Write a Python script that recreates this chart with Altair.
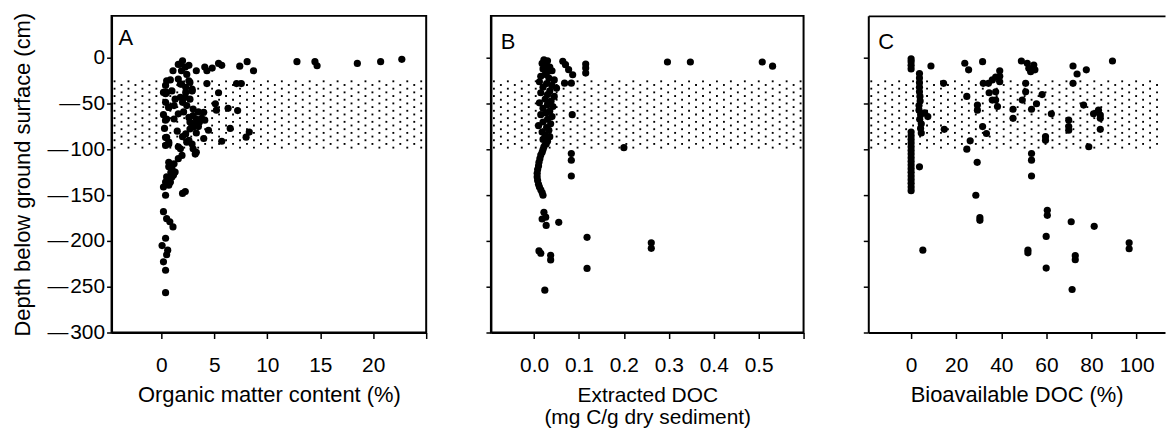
import altair as alt
import numpy as np
import pandas as pd

FONT = "Liberation Sans"

# ---------------- data ----------------
# Panel A: organic matter content (%) vs depth (cm)
A_POINTS = [
    (12.8, -4), (14.5, -4), (14.7, -8.5), (18.5, -6), (20.7, -4), (22.7, -1.5),
    (8.1, -4), (8.7, -14), (7.4, -9), (7.1, -28), (7.55, -28), (7.2, -57.5), (8.3, -81), (8.0, -86.5),
    (6.5, -77), (6.3, -55), (5.4, -38), (5.1, -50), (5.2, -57), (5.7, -91), (5.4, -6), (5.7, -8),
    (4.45, -79), (4.1, -10), (4.3, -14), (4.8, -11), (4.3, -28), (3.3, -14), (3.8, -66), (4.0, -88),
    (3.5, -75), (3.3, -82),
    (1.8, -6.7), (1.1, -14), (1.6, -7), (1.9, -14), (2.26, -10), (2.0, -3), (2.6, -8), (2.4, -18),
    (0.5, -25), (1.6, -23), (1.9, -28.5), (2.6, -25), (0.4, -30), (0.85, -24), (0.4, -39), (1.0, -36),
    (2.26, -43), (2.9, -36), (0.7, -54), (1.6, -61), (0.4, -68), (2.6, -65), (3.2, -72), (4.1, -68),
    (0.4, -87), (0.7, -94), (1.6, -97), (2.6, -90),
    (0.2, -37.6), (0.5, -37.6), (1.8, -28.5), (2.3, -32), (2.7, -26.7), (2.9, -34), (1.8, -43), (2.0, -48.5),
    (2.4, -52), (2.1, -59), (0.4, -48.5), (0.7, -54), (1.2, -52), (0.2, -62), (0.5, -66.7), (1.2, -66.7),
    (0.3, -77), (0.5, -86.6), (0.4, -95.6), (0.7, -92), (2.3, -83), (2.7, -77.6), (3.0, -75.7), (2.4, -92),
    (2.9, -94), (3.0, -99.3), (3.3, -103), (1.8, -99.3), (3.0, -63), (3.3, -66.7), (2.85, -72), (3.6, -70),
    (2.7, -70), (2.3, -37.6), (2.9, -35.7), (2.7, -45), (3.0, -55.8), (4.0, -59.4), (3.5, -59), (1.3, -45),
    (1.5, -80), (2.0, -86),
    (1.95, -106.5), (1.6, -110), (3.2, -105), (0.7, -114), (0.7, -119), (0.9, -125), (1.0, -130), (0.8, -136),
    (0.7, -139), (1.0, -121), (1.15, -128), (1.2, -115.7), (1.3, -124.7), (0.85, -135.6), (0.2, -141),
    (0.4, -135.6), (0.5, -130), (0.4, -150), (2.26, -146), (2.0, -148), (0.2, -168), (0.5, -175.6),
    (0.8, -179), (1.1, -184.6), (0.4, -197), (0.07, -205), (0.6, -210), (0.5, -215), (0.2, -222.8),
    (0.4, -232), (0.4, -256.5),
]

# Panel B: extracted DOC (mg C/g dry sediment) vs depth (cm)
B_POINTS = [
    (0.297, -4.4), (0.348, -4.4), (0.508, -4.4), (0.531, -9),
    (0.064, -3.6), (0.07, -7.3), (0.077, -12.8), (0.086, -18.3),
    (0.115, -6.6), (0.115, -11), (0.115, -16.5), (0.068, -27.5), (0.083, -27.5),
    (0.085, -62), (0.2, -98), (0.083, -104.5), (0.083, -111.8), (0.083, -129),
    (0.055, -179.6), (0.022, -168.6), (0.026, -174), (0.018, -176), (0.027, -183),
    (0.118, -196), (0.261, -202), (0.261, -208), (0.011, -210.8), (0.015, -213.4),
    (0.037, -215.6), (0.037, -220.7), (0.118, -230), (0.024, -253.7),
    (0.022, -2), (0.03, -3), (0.018, -6), (0.028, -8), (0.035, -10), (0.02, -12), (0.03, -15),
    (0.04, -14), (0.025, -18), (0.015, -20), (0.033, -22), (0.045, -24), (0.012, -26), (0.028, -28),
    (0.04, -30), (0.05, -33), (0.02, -32), (0.035, -36), (0.015, -38), (0.03, -40), (0.045, -42),
    (0.025, -45), (0.038, -47), (0.012, -49), (0.03, -51), (0.042, -53), (0.02, -55), (0.035, -58),
    (0.027, -60), (0.015, -62), (0.04, -64), (0.03, -67), (0.02, -70), (0.037, -72), (0.01, -74),
    (0.028, -76), (0.033, -79), (0.018, -81), (0.025, -84), (0.035, -86), (0.02, -89), (0.03, -91),
    (0.027, -94), (0.022, -97), (0.02, -100), (0.018, -103), (0.015, -106), (0.013, -110),
    (0.011, -114), (0.01, -118), (0.008, -122), (0.007, -126), (0.007, -130), (0.008, -134),
    (0.01, -138), (0.012, -141), (0.015, -144), (0.018, -147), (0.02, -150),
]

# Panel C: bioavailable DOC (%) vs depth (cm)
C_POINTS = [
    (0, -1), (0, -4), (0, -8), (0, -12),
    (0, -81), (0, -85), (0, -89), (0, -93), (0, -97), (0, -101), (0, -105), (0, -109), (0, -113),
    (0, -117), (0, -121), (0, -125), (0, -129), (0, -133), (0, -137), (0, -141), (0, -145),
    (3.7, -17), (3.7, -22), (3.7, -27), (3.7, -32), (3.7, -37), (3.9, -42), (4.0, -47), (3.5, -52),
    (3.5, -57), (4.2, -62), (3.8, -67), (4.5, -72), (4.2, -77), (4.5, -82), (7.4, -64), (6.0, -60),
    (8.8, -8.8), (3.7, -119), (5.2, -210), (14.4, -27.7), (14.7, -78), (23.8, -5.8), (25.5, -13),
    (24.7, -42), (26.2, -90.5), (24.7, -99.7), (29.3, -114), (28.7, -150), (30.5, -174.5),
    (30.5, -177.4), (31.7, -4), (29.4, -51.5), (29.4, -57), (31.7, -75), (33.4, -82.5), (32, -27.7),
    (34.3, -27.7), (34.6, -38), (36, -24), (37.5, -21), (37.5, -37), (37.5, -46), (38.3, -53),
    (36, -46), (39.3, -14), (39.3, -20), (39.3, -26), (45.2, -56), (45.2, -66), (48.9, -3.3),
    (49.3, -46), (50.8, -27.7), (50.8, -37), (51.5, -5.8), (52.2, -11.3), (53, -15), (54.4, -7.7),
    (54.9, -13), (53.4, -56), (53.4, -104.4), (53.4, -111.7), (53.4, -129), (55.6, -50), (58.1, -40),
    (59.6, -86), (59.6, -90), (62.2, -61), (60.4, -166.5), (60.4, -172), (59.9, -195), (59.9, -229.6),
    (51.8, -210), (51.8, -213), (69.9, -68), (69.9, -75), (69.9, -79), (71.8, -8.8), (73.6, -17.5),
    (71.8, -27.7), (71, -179), (72.8, -216), (72.8, -220.5), (71.4, -253), (77.7, -13), (76.5, -51.5),
    (78.8, -97), (81.2, -184), (80.9, -61), (83.1, -57), (83.9, -62.4), (83.9, -66), (83.9, -78),
    (89.3, -3.3), (96.7, -202), (96.7, -208.5),
]

# shaded (stippled) depth band
BAND_TOP = -25
BAND_BOTTOM = -100

Y_DOMAIN = [-300, 46]
Y_TICKS = [-300, -250, -200, -150, -100, -50, 0]
HEIGHT = 318

A_DOMAIN, A_TICKS, A_WIDTH = [-4.7, 25], [0, 5, 10, 15, 20, 25], 316
B_DOMAIN, B_TICKS, B_WIDTH = [-0.096, 0.6], [0.0, 0.1, 0.2, 0.3, 0.4, 0.5, 0.6], 314
C_DOMAIN, C_TICKS, C_WIDTH = [-19, 112.6], [0, 20, 40, 60, 80, 100], 298

# texture of the band: staggered dot lattice (pixel spacing)
STIPPLE_ROW_PX = 3.7
STIPPLE_COL_PX = 14.0


def stipple(domain, width):
    """Dotted texture filling the band, laid out on a pixel grid."""
    ppx = width / (domain[1] - domain[0])
    ppy = HEIGHT / (Y_DOMAIN[1] - Y_DOMAIN[0])
    rows = np.arange(BAND_TOP - 0.5, BAND_BOTTOM - 0.01, -STIPPLE_ROW_PX / ppy)
    out = []
    for i, yv in enumerate(rows):
        off = 3 + (STIPPLE_COL_PX / 2 if i % 2 else 0)
        xs = np.arange(domain[0] + off / ppx, domain[1] - 1 / ppx, STIPPLE_COL_PX / ppx)
        out += [(float(x), float(yv)) for x in xs]
    return pd.DataFrame(out, columns=["x", "y"])


def panel(points, domain, ticks, width, xtitle, letter, lx, ly, first, label_fmt, hide_last,
          open_right, title_size=22):
    df = pd.DataFrame(points, columns=["x", "y"])
    xscale = alt.Scale(domain=domain, nice=False, zero=False)
    yscale = alt.Scale(domain=Y_DOMAIN, nice=False, zero=False)
    xaxis_kw = dict(orient="bottom", values=ticks, title=xtitle, format=label_fmt, grid=False,
                    titleFontSize=title_size)
    if hide_last:
        xaxis_kw["labelExpr"] = "datum.value >= %s ? '' : datum.label" % ticks[-1]
    yaxis_kw = dict(orient="left", values=Y_TICKS, grid=False, labels=first,
                    labelExpr="replace(datum.label, '\u2212', '\u2014\u200a')",
                    title="Depth below ground surface (cm)" if first else None)
    xaxis = alt.Axis(**xaxis_kw)
    yaxis = alt.Axis(**yaxis_kw)
    stip = alt.Chart(stipple(domain, width)).mark_square(size=3.5, color="black", opacity=1).encode(
        x=alt.X("x:Q", scale=xscale, axis=xaxis),
        y=alt.Y("y:Q", scale=yscale, axis=yaxis),
    )
    if open_right:
        # last panel is cut at the right: top frame line drawn as an axis, no right border
        pts_xaxis = alt.Axis(orient="top", labels=False, ticks=False, title=None, grid=False,
                             domainColor="black", domainWidth=2)
    else:
        pts_xaxis = xaxis
    pts = alt.Chart(df).mark_circle(size=52, color="black", opacity=1).encode(
        x=alt.X("x:Q", scale=xscale, axis=pts_xaxis),
        y=alt.Y("y:Q", scale=yscale, axis=yaxis),
    )
    lab = alt.Chart(pd.DataFrame({"t": [letter]})).mark_text(
        align="left", baseline="alphabetic", fontSize=22, font=FONT, color="black"
    ).encode(text="t:N", x=alt.value(lx), y=alt.value(ly))
    props = dict(width=width, height=HEIGHT)
    if open_right:
        props["view"] = alt.ViewBackground(stroke="transparent")
    return alt.layer(stip, pts, lab).properties(**props)


pa = panel(A_POINTS, A_DOMAIN, A_TICKS, A_WIDTH, "Organic matter content (%)", "A", 7, 29,
           True, "d", True, False)
pb = panel(B_POINTS, B_DOMAIN, B_TICKS, B_WIDTH, ["Extracted DOC", "(mg C/g dry sediment)"], "B", 10, 33,
           False, ".1f", True, False, title_size=21)
pc = panel(C_POINTS, C_DOMAIN, C_TICKS, C_WIDTH, "Bioavailable DOC (%)", "C", 10, 33,
           False, "d", False, True)

chart = alt.hconcat(pa, pb, pc, spacing=65, bounds="flush").properties(
    padding={"left": 2, "top": 2, "right": 0, "bottom": 0}
).configure_view(
    stroke="black", strokeWidth=2
).configure_axis(
    domainColor="black", domainWidth=2, tickColor="black", tickWidth=1.5,
    labelFont=FONT, labelFontSize=21, labelColor="black",
    titleFont=FONT, titleColor="black", titleFontWeight="normal",
).configure_axisX(
    tickSize=6, labelPadding=16, titlePadding=9, titleLineHeight=22,
).configure_axisY(
    tickSize=5, labelPadding=2, titlePadding=13, titleFontSize=22,
)

chart.save("out.html", embed_options={"renderer": "svg", "actions": False})
